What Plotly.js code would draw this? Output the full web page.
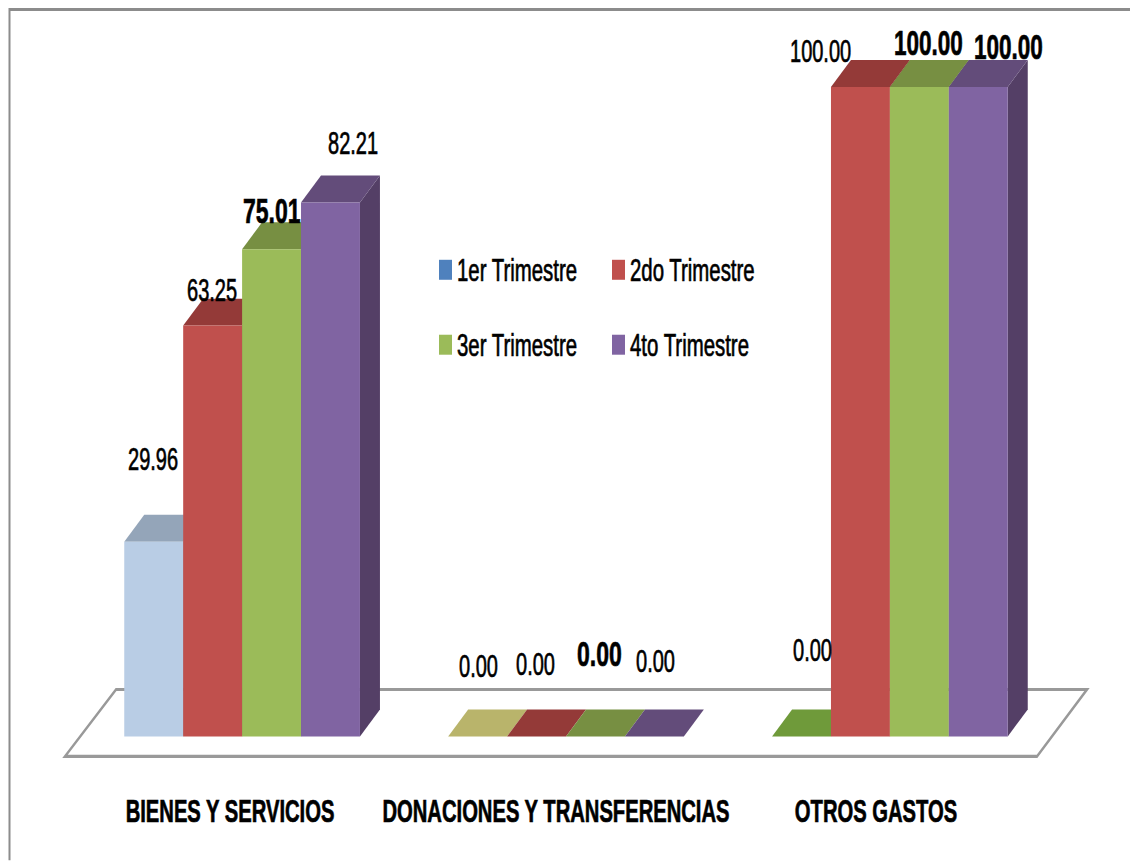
<!DOCTYPE html>
<html>
<head>
<meta charset="utf-8">
<script src="https://cdn.plot.ly/plotly-3.0.1.min.js"></script>
<style>
html,body{margin:0;padding:0;background:#fff;overflow:hidden;width:1130px;height:861px}
#chart{width:1130px;transform-origin:0 0}
#chart text{stroke:#000;stroke-width:.45px}
</style>
</head>
<body>
<div id="chart"></div>
<script>
// ---- data ----
const categories = ["BIENES Y SERVICIOS", "DONACIONES Y TRANSFERENCIAS", "OTROS GASTOS"];
const seriesNames = ["1er Trimestre", "2do Trimestre", "3er Trimestre", "4to Trimestre"];
const trim1 = [29.96, 0, 0];
const trim2 = [63.25, 0, 100];
const trim3 = [75.01, 0, 100];
const trim4 = [82.21, 0, 100];
const allSeries = [trim1, trim2, trim3, trim4];

// ---- style ----
const W = 1130, H = 861, STRETCH = 1.56;
const plotBottom = 790;          // px of axis line in final picture
const zeroPx = 737, pxPerUnit = 6.5, cat0Px = 242.1, catPx = 323.9;
const groupFrac = 235.7 / catPx, barFrac = groupFrac / 4;
const depthX = 20 / catPx, depthY = 27 / pxPerUnit;
const frontColors = [["#b9cde5", "#4f81bd", "#4f81bd"], ["#c0504d"], ["#9bbb59"], ["#8064a2"]];
const topColors = [["#94a5b9", "#b9b46b", "#6f9a3a"], ["#943a38"], ["#778f42"], ["#634c7a"]];
const sideColors = ["#7f8fa0", "#7a2f2d", "#5f7532", "#543f66"];
const legendColors = ["#4f81bd", "#c0504d", "#9bbb59", "#8064a2"];
const FONT = '"Liberation Sans Narrow", "Liberation Sans", sans-serif';

const xOf = px => (px - cat0Px) / catPx;
const yOf = py => (zeroPx - py) / pxPerUnit;
const xP = px => px / W;
const yP = py => (plotBottom - py) / plotBottom;
const pick = (arr, i) => arr[i % arr.length];

const poly = pts => "M" + pts.map(p => p[0] + "," + p[1]).join("L") + "Z";

// label centres in the picture: [series][category] -> [xpx, ypx, size, weight]
const labelPos = [
  [[153, 459, 20, 400], [478, 666, 20, 400], [812, 651, 20, 400]],
  [[212, 290, 20, 400], [535, 665, 20, 400], [820, 52, 20, 400]],
  [[272, 210, 23, 700], [599, 654, 23, 700], [928, 43, 22.5, 700]],
  [[353, 143, 20, 400], [655, 662, 20, 400], [1008, 47, 22.5, 700]]
];

const shapes = [];
// outer frame
shapes.push({type: "path", xref: "paper", yref: "paper", layer: "below",
  path: `M${xP(9.5)},${yP(861)}L${xP(9.5)},${yP(9.5)}L${xP(1130)},${yP(9.5)}`,
  line: {color: "#8c8c8c", width: 2}});
// floor
shapes.push({type: "path", xref: "x", yref: "y", layer: "below",
  path: poly([[xOf(65), yOf(757)], [xOf(1037), yOf(757)], [xOf(1087), yOf(690)], [xOf(116), yOf(690)]]),
  fillcolor: "#ffffff", line: {color: "#999999", width: 2}});
// 3D faces derived from values
allSeries.forEach((vals, s) => {
  vals.forEach((v, c) => {
    const x0 = c - groupFrac / 2 + s * barFrac, x1 = x0 + barFrac;
    shapes.push({type: "path", xref: "x", yref: "y", layer: "below", line: {width: 0},
      fillcolor: pick(sideColors, s),
      path: poly([[x1, 0], [x1 + depthX, depthY], [x1 + depthX, v + depthY], [x1, v]])});
    shapes.push({type: "path", xref: "x", yref: "y", layer: "below", line: {width: 0},
      fillcolor: pick(topColors[s], c),
      path: poly([[x0, v], [x1, v], [x1 + depthX, v + depthY], [x0 + depthX, v + depthY]])});
  });
});

const annotations = [];
allSeries.forEach((vals, s) => vals.forEach((v, c) => {
  const [px, py, size, weight] = labelPos[s][c];
  annotations.push({x: xOf(px), y: yOf(py), xref: "x", yref: "y", text: v.toFixed(2),
    showarrow: false, xanchor: "center", yanchor: "middle",
    font: {family: FONT, size: size, color: "#000", weight: weight}});
}));

// legend
const legendPos = [[439, 270], [612, 270], [439, 345], [612, 345]];
seriesNames.forEach((name, i) => {
  const [lx, ly] = legendPos[i];
  shapes.push({type: "rect", xref: "paper", yref: "paper",
    x0: xP(lx), x1: xP(lx + 13), y0: yP(ly + 10), y1: yP(ly - 10),
    fillcolor: legendColors[i], line: {width: 0}});
  annotations.push({xref: "paper", yref: "paper", x: xP(lx + 15.5), y: yP(ly), text: name,
    showarrow: false, xanchor: "left", yanchor: "middle",
    font: {family: FONT, size: 20.4, color: "#000"}});
});

const traces = allSeries.map((vals, s) => ({
  type: "bar", name: seriesNames[s], x: categories.map((_, i) => i), y: vals,
  marker: {color: vals.map((_, c) => pick(frontColors[s], c)), line: {width: 0}},
  hoverinfo: "skip", showlegend: false
}));

const layoutH = H / STRETCH;
const el = document.getElementById("chart");
el.style.height = layoutH + "px";
el.style.transform = `scaleY(${STRETCH})`;

Plotly.newPlot(el, traces, {
  width: W, height: layoutH,
  margin: {l: 0, r: 0, t: 0, b: (H - plotBottom) / STRETCH, pad: 0},
  paper_bgcolor: "#fff", plot_bgcolor: "#fff",
  barmode: "group", bargap: 1 - groupFrac, bargroupgap: 0,
  showlegend: false,
  xaxis: {range: [xOf(0), xOf(W)], showgrid: false, zeroline: false, showline: false,
    tickmode: "array", tickvals: [xOf(230), xOf(556), xOf(876)], ticktext: categories,
    ticks: "", tickangle: 0, automargin: false,
    tickfont: {family: FONT, size: 20.2, color: "#000", weight: 700}},
  yaxis: {range: [yOf(plotBottom), yOf(0)], showgrid: false, zeroline: false, showline: false,
    showticklabels: false, ticks: ""},
  shapes, annotations
}, {displayModeBar: false, staticPlot: true});
</script>
</body>
</html>
